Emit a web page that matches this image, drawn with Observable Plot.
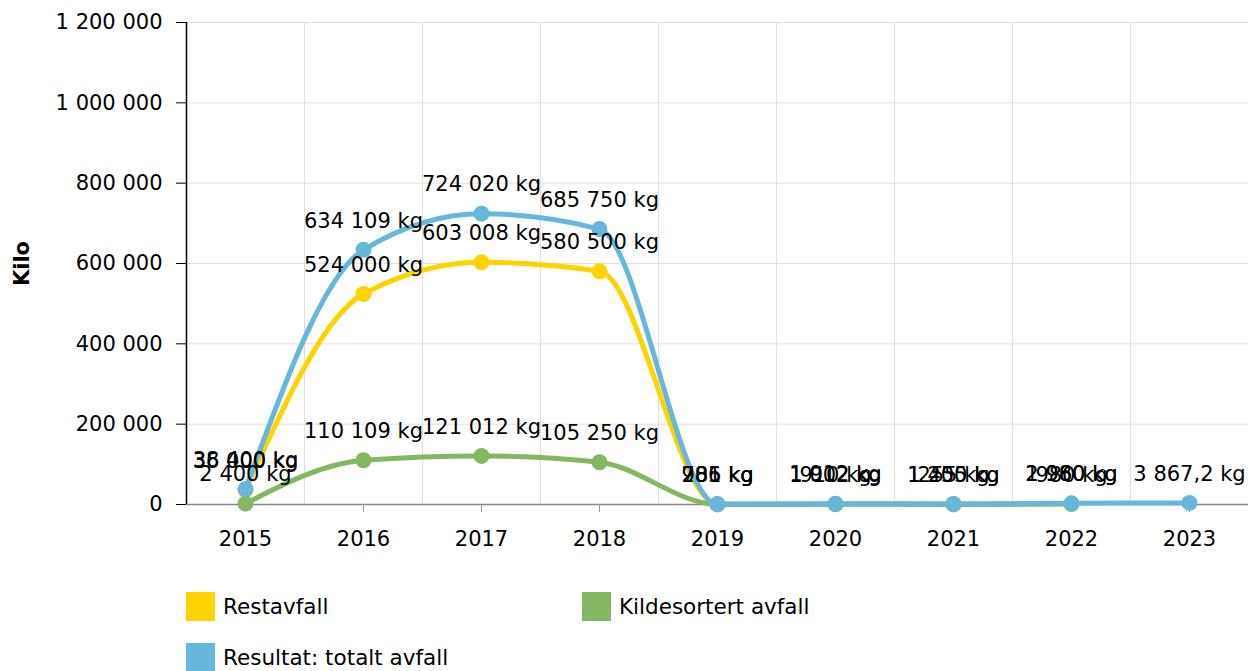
<!DOCTYPE html>
<html>
<head>
<meta charset="utf-8">
<script src="https://cdn.jsdelivr.net/npm/d3@7"></script>
<script src="https://cdn.jsdelivr.net/npm/@observablehq/plot@0.6"></script>
<style>
  html, body { margin: 0; padding: 0; background: #fff; }
  body { width: 1250px; font-family: "DejaVu Sans", Verdana, sans-serif; }
  #legend { position: relative; height: 96px; font-size: 21.5px; color: #000; }
  .item { position: absolute; display: flex; align-items: center; height: 29px; }
  .sw { width: 29px; height: 29px; margin-right: 8px; }
</style>
</head>
<body>
<div id="chart"></div>
<div id="legend"></div>
<script>
const years = [2015, 2016, 2017, 2018, 2019, 2020, 2021, 2022, 2023];
const restavfall = [36000, 524000, 603008, 580500, 785, 1002, 1200, 1980, null];
const kildesortert = [2400, 110109, 121012, 105250, 201, 910, 255, 980, null];
const totalt = [38400, 634109, 724020, 685750, 986, 1912, 1455, 2960, 3867.2];
const seriesNames = ["Restavfall", "Kildesortert avfall", "Resultat: totalt avfall"];
const seriesColors = ["#FFD300", "#84B761", "#67B7DC"];
const yTicks = [0, 200000, 400000, 600000, 800000, 1000000, 1200000];

const seriesValues = [restavfall, kildesortert, totalt];
const data = seriesNames.flatMap((name, s) =>
  years.map((year, i) => ({ year, value: seriesValues[s][i], name }))
).filter(d => d.value != null);

const loc = d3.formatLocale({ decimal: ",", thousands: " ", grouping: [3], currency: ["", " kr"] });
const fmtInt = loc.format(",d");
const fmtLabel = v => (Number.isInteger(v) ? loc.format(",d")(v) : loc.format(",.1f")(v)) + " kg";

const gridXs = years.slice(0, -1).map(y => y + 0.5);

const chart = Plot.plot({
  width: 1250,
  height: 575,
  marginLeft: 186,
  marginRight: 2,
  marginTop: 22,
  marginBottom: 71,
  style: { fontFamily: "DejaVu Sans, Verdana, sans-serif", fontSize: "21px", color: "#000", background: "#fff" },
  x: { type: "linear", domain: [years[0] - 0.5, years[years.length - 1] + 0.5] },
  y: { domain: [0, 1200000] },
  color: { domain: seriesNames, range: seriesColors },
  marks: [
    Plot.gridY(yTicks, { stroke: "#e0e0e0", strokeOpacity: 1 }),
    Plot.gridX(gridXs, { stroke: "#e0e0e0", strokeOpacity: 1 }),
    Plot.ruleY([0], { stroke: "#888", strokeWidth: 1.5 }),
    Plot.ruleX([years[0] - 0.5], { stroke: "#000", strokeWidth: 1.5 }),
    Plot.axisY({ ticks: yTicks, tickFormat: fmtInt, tickSize: 10, tickPadding: 14, label: null, stroke: "#000", fill: "#000", fontSize: 21 }),
    Plot.axisX({ ticks: years, tickFormat: d => String(d), tickSize: 8, tickPadding: 19, label: null, stroke: "#999", fill: "#000", fontSize: 21 }),
    Plot.text(["Kilo"], { frameAnchor: "left", textAnchor: "middle", dx: -164, rotate: -90, fontWeight: "bold", fontSize: 21, fill: "#000" }),
    Plot.line(data, { x: "year", y: "value", z: "name", stroke: "name", strokeWidth: 5, curve: "monotone-x" }),
    Plot.dot(data, { x: "year", y: "value", fill: "name", r: 8, stroke: "none" }),
    Plot.text(data, { x: "year", y: "value", text: d => fmtLabel(d.value), dy: -29, fontSize: 21, fill: "#000" })
  ]
});
document.getElementById("chart").appendChild(chart);

const legend = document.getElementById("legend");
const positions = [[186, 17], [582, 17], [186, 68]];
seriesNames.forEach((name, i) => {
  const item = document.createElement("div");
  item.className = "item";
  item.style.left = positions[i][0] + "px";
  item.style.top = positions[i][1] + "px";
  const sw = document.createElement("div");
  sw.className = "sw";
  sw.style.background = seriesColors[i];
  const label = document.createElement("span");
  label.textContent = name;
  item.appendChild(sw);
  item.appendChild(label);
  legend.appendChild(item);
});
</script>
</body>
</html>
